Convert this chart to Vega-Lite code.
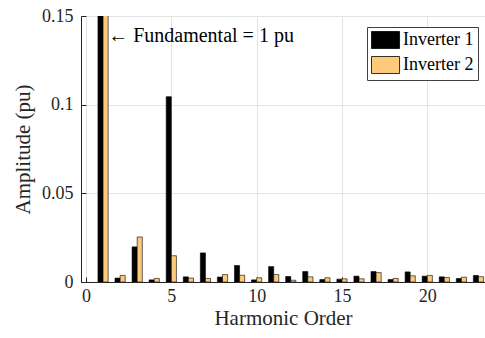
{
  "$schema": "https://vega.github.io/schema/vega-lite/v6.json",
  "autosize": "none",
  "padding": {"left": 81, "top": 16, "right": 0, "bottom": 56},
  "width": 404,
  "height": 266,
  "background": "white",
  "config": {
    "font": "Liberation Serif",
    "view": {"stroke": "#262626", "strokeWidth": 1},
    "axis": {
      "labelFont": "Liberation Serif",
      "titleFont": "Liberation Serif",
      "labelColor": "#262626",
      "titleColor": "#262626",
      "titleFontWeight": "normal",
      "domainColor": "#262626",
      "tickColor": "#262626",
      "gridColor": "#E3E3E3",
      "gridWidth": 1,
      "tickSize": -5,
      "labelFontSize": 18,
      "titleFontSize": 21
    }
  },
  "data": {
    "values": [
      {"h": 1, "series": "Inverter 1", "amp": 1}, {"h": 1, "series": "Inverter 2", "amp": 1},
      {"h": 2, "series": "Inverter 1", "amp": 0.0022}, {"h": 2, "series": "Inverter 2", "amp": 0.0037},
      {"h": 3, "series": "Inverter 1", "amp": 0.0198}, {"h": 3, "series": "Inverter 2", "amp": 0.0254},
      {"h": 4, "series": "Inverter 1", "amp": 0.0012}, {"h": 4, "series": "Inverter 2", "amp": 0.0020},
      {"h": 5, "series": "Inverter 1", "amp": 0.1045}, {"h": 5, "series": "Inverter 2", "amp": 0.0148},
      {"h": 6, "series": "Inverter 1", "amp": 0.0029}, {"h": 6, "series": "Inverter 2", "amp": 0.0022},
      {"h": 7, "series": "Inverter 1", "amp": 0.0164}, {"h": 7, "series": "Inverter 2", "amp": 0.0020},
      {"h": 8, "series": "Inverter 1", "amp": 0.0028}, {"h": 8, "series": "Inverter 2", "amp": 0.0042},
      {"h": 9, "series": "Inverter 1", "amp": 0.0093}, {"h": 9, "series": "Inverter 2", "amp": 0.0038},
      {"h": 10, "series": "Inverter 1", "amp": 0.0012}, {"h": 10, "series": "Inverter 2", "amp": 0.0024},
      {"h": 11, "series": "Inverter 1", "amp": 0.0087}, {"h": 11, "series": "Inverter 2", "amp": 0.0042},
      {"h": 12, "series": "Inverter 1", "amp": 0.0031}, {"h": 12, "series": "Inverter 2", "amp": 0.0010},
      {"h": 13, "series": "Inverter 1", "amp": 0.0059}, {"h": 13, "series": "Inverter 2", "amp": 0.0029},
      {"h": 14, "series": "Inverter 1", "amp": 0.0014}, {"h": 14, "series": "Inverter 2", "amp": 0.0024},
      {"h": 15, "series": "Inverter 1", "amp": 0.0016}, {"h": 15, "series": "Inverter 2", "amp": 0.0018},
      {"h": 16, "series": "Inverter 1", "amp": 0.0033}, {"h": 16, "series": "Inverter 2", "amp": 0.0018},
      {"h": 17, "series": "Inverter 1", "amp": 0.0059}, {"h": 17, "series": "Inverter 2", "amp": 0.0053},
      {"h": 18, "series": "Inverter 1", "amp": 0.0014}, {"h": 18, "series": "Inverter 2", "amp": 0.0020},
      {"h": 19, "series": "Inverter 1", "amp": 0.0057}, {"h": 19, "series": "Inverter 2", "amp": 0.0035},
      {"h": 20, "series": "Inverter 1", "amp": 0.0033}, {"h": 20, "series": "Inverter 2", "amp": 0.0037},
      {"h": 21, "series": "Inverter 1", "amp": 0.0029}, {"h": 21, "series": "Inverter 2", "amp": 0.0025},
      {"h": 22, "series": "Inverter 1", "amp": 0.0020}, {"h": 22, "series": "Inverter 2", "amp": 0.0027},
      {"h": 23, "series": "Inverter 1", "amp": 0.0037}, {"h": 23, "series": "Inverter 2", "amp": 0.0030}
    ]
  },
  "layer": [
    {
      "transform": [{"filter": "datum.series === 'Inverter 1'"}],
      "mark": {"type": "bar", "width": 5.1, "xOffset": -2.55, "clip": true, "stroke": "#000000", "strokeWidth": 0.6},
      "encoding": {
        "x": {
          "field": "h", "type": "quantitative",
          "scale": {"domain": [0, 23.09], "nice": false, "zero": false},
          "axis": {"values": [0, 5, 10, 15, 20], "title": "Harmonic Order", "labelPadding": 10, "titlePadding": 2, "labelFlush": false}
        },
        "y": {
          "field": "amp", "type": "quantitative",
          "scale": {"domain": [0, 0.15], "nice": false},
          "axis": {"values": [0, 0.05, 0.1, 0.15], "format": ".2~f", "title": "Amplitude (pu)", "labelPadding": 13, "titlePadding": 8, "labelFlush": false}
        },
        "color": {
          "field": "series", "type": "nominal",
          "scale": {"domain": ["Inverter 1", "Inverter 2"], "range": ["#000000", "#FDC97B"]},
          "legend": {
            "title": null, "orient": "none", "legendX": 286, "legendY": 11,
            "symbolType": "M-1,-1L2.3,-1L2.3,1L-1,1Z",
            "symbolSize": 289, "symbolStrokeColor": "#000000", "symbolStrokeWidth": 0.8,
            "symbolOpacity": 1,
            "labelFont": "Liberation Serif", "labelFontSize": 18, "labelColor": "#000000",
            "labelOffset": 14, "rowPadding": 3,
            "padding": 4, "strokeColor": "#404040", "fillColor": "white", "cornerRadius": 0
          }
        }
      }
    },
    {
      "transform": [{"filter": "datum.series === 'Inverter 2'"}],
      "mark": {"type": "bar", "width": 5.1, "xOffset": 2.55, "clip": true, "stroke": "#000000", "strokeWidth": 0.6},
      "encoding": {
        "x": {"field": "h", "type": "quantitative"},
        "y": {"field": "amp", "type": "quantitative"},
        "color": {"field": "series", "type": "nominal"}
      }
    },
    {
      "data": {"values": [{"label": "← Fundamental = 1 pu"}]},
      "mark": {"type": "text", "align": "left", "baseline": "middle", "font": "'Liberation Serif', 'DejaVu Serif', serif", "fontSize": 20, "fill": "#000000"},
      "encoding": {
        "x": {"datum": 1.3, "type": "quantitative"},
        "y": {"datum": 0.139, "type": "quantitative"},
        "text": {"field": "label"}
      }
    }
  ]
}
